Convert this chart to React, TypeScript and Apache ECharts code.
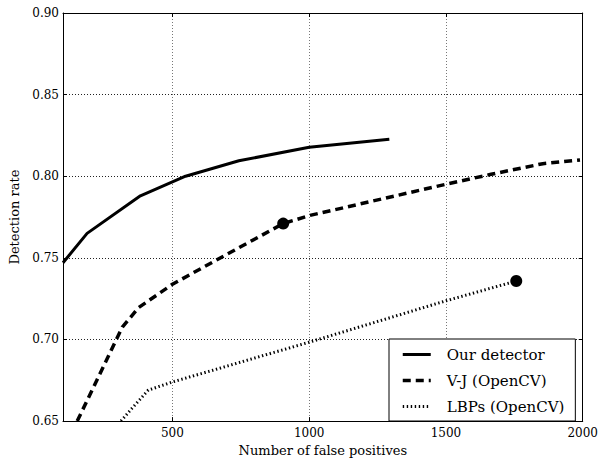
import React, { useEffect, useRef } from "react";
import * as echarts from "echarts";

const xTicks = [500, 1000, 1500, 2000];
const seriesNames = ["Our detector", "V-J (OpenCV)", "LBPs (OpenCV)"];

const ourX = [100, 188, 383, 548, 743, 1000, 1293];
const ourY = [0.747, 0.765, 0.788, 0.8, 0.8095, 0.8177, 0.8227];

const vjX = [152, 317, 377, 448, 500, 696, 905, 1003, 1500, 1665, 1854, 1990];
const vjY = [0.65, 0.7076, 0.7196, 0.7278, 0.7338, 0.7519, 0.771, 0.776, 0.7951, 0.8012, 0.8077, 0.81];

const lbpX = [312, 353, 412, 501, 1003, 1500, 1757];
const lbpY = [0.65, 0.658, 0.669, 0.674, 0.6985, 0.7237, 0.7358];

const markX = [905, 1757];
const markY = [0.771, 0.7358];

const zip = (xs: number[], ys: number[]) => xs.map((x, i) => [x, ys[i]]);

const FONT = "DejaVu Serif";

export default function App() {
  const ref = useRef<HTMLDivElement>(null);
  useEffect(() => {
    if (!ref.current) return;
    const chart = echarts.init(ref.current, null, { renderer: "svg" });
    const tickCommon = { show: true, inside: true, length: 4, lineStyle: { color: "#000", width: 1 } };
    chart.setOption({
      animation: false,
      backgroundColor: "#fff",
      textStyle: { fontFamily: FONT, color: "#000" },
      grid: { left: 52, right: 13, top: 13, bottom: 35, containLabel: false },
      xAxis: [
        {
          type: "value",
          min: 100,
          max: 2000,
          position: "bottom",
          name: "Number of false positives",
          nameLocation: "middle",
          nameGap: 19,
          nameTextStyle: { fontFamily: FONT, fontSize: 13, color: "#000" },
          axisLine: { show: true, onZero: false, lineStyle: { color: "#000", width: 1 } },
          axisTick: { ...tickCommon, customValues: xTicks },
          axisLabel: {
            customValues: xTicks,
            fontFamily: FONT,
            fontSize: 12,
            color: "#000",
            margin: 6,
            formatter: (v: number) => String(v),
          },
          splitLine: { show: true, lineStyle: { color: "#777", width: 1, type: [1, 2] } },
        },
        {
          type: "value",
          min: 100,
          max: 2000,
          position: "top",
          axisLine: { show: true, onZero: false, lineStyle: { color: "#000", width: 1 } },
          axisTick: { ...tickCommon, customValues: xTicks },
          axisLabel: { show: false },
          splitLine: { show: false },
        },
      ],
      yAxis: [
        {
          type: "value",
          min: 0.65,
          max: 0.9,
          interval: 0.05,
          position: "left",
          name: "Detection rate",
          nameLocation: "middle",
          nameGap: 42,
          nameTextStyle: { fontFamily: FONT, fontSize: 13, color: "#000" },
          axisLine: { show: true, onZero: false, lineStyle: { color: "#000", width: 1 } },
          axisTick: tickCommon,
          axisLabel: {
            fontFamily: FONT,
            fontSize: 12,
            color: "#000",
            margin: 4,
            formatter: (v: number) => v.toFixed(2),
          },
          splitLine: { show: true, lineStyle: { color: "#222", width: 1, type: [1, 2] } },
        },
        {
          type: "value",
          min: 0.65,
          max: 0.9,
          interval: 0.05,
          position: "right",
          axisLine: { show: true, onZero: false, lineStyle: { color: "#000", width: 1 } },
          axisTick: tickCommon,
          axisLabel: { show: false },
          splitLine: { show: false },
        },
      ],
      legend: {
        data: seriesNames,
        orient: "vertical",
        left: 389,
        top: 339,
        padding: [8, 11, 7, 12],
        itemGap: 11,
        itemWidth: 28,
        itemHeight: 14,
        backgroundColor: "#fff",
        borderColor: "#000",
        borderWidth: 1,
        borderRadius: 0,
        itemStyle: { opacity: 0 },
        lineStyle: { width: "inherit", opacity: 1 },
        textStyle: { fontFamily: FONT, fontSize: 15, color: "#000", padding: [0, 0, 0, 11] },
      },
      series: [
        {
          name: seriesNames[0],
          type: "line",
          data: zip(ourX, ourY),
          symbol: "none",
          clip: true,
          lineStyle: { color: "#000", width: 3 },
          itemStyle: { color: "#000" },
        },
        {
          name: seriesNames[1],
          type: "line",
          data: zip(vjX, vjY),
          symbol: "none",
          clip: true,
          lineStyle: { color: "#000", width: 3.5, type: [8, 5] },
          itemStyle: { color: "#000" },
        },
        {
          name: seriesNames[2],
          type: "line",
          data: zip(lbpX, lbpY),
          symbol: "none",
          clip: true,
          lineStyle: { color: "#000", width: 3, type: [1.4, 2.6] },
          itemStyle: { color: "#000" },
        },
        {
          name: "markers",
          type: "scatter",
          data: zip(markX, markY),
          symbol: "circle",
          symbolSize: 12,
          itemStyle: { color: "#000", opacity: 1 },
          z: 5,
        },
      ],
    });
    return () => chart.dispose();
  }, []);
  return (
    <div
      ref={ref}
      style={{ position: "absolute", left: 0, top: 0, width: 601, height: 462, background: "#fff" }}
    />
  );
}
